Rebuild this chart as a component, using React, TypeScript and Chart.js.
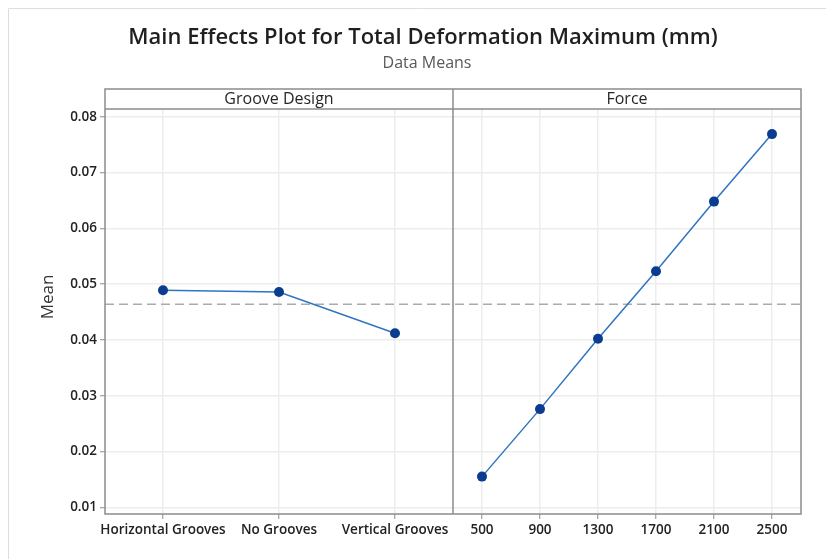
import { useEffect, useRef } from "react";
import { Chart, registerables } from "chart.js";

Chart.register(...registerables);

// Factor levels and their mean responses
const GROOVE_LEVELS = ["Horizontal Grooves", "No Grooves", "Vertical Grooves"];
const GROOVE_MEANS = [0.0489, 0.0486, 0.0412];
const FORCE_LEVELS = ["500", "900", "1300", "1700", "2100", "2500"];
const FORCE_MEANS = [0.0155, 0.0276, 0.0402, 0.0523, 0.0648, 0.0769];
const Y_TICKS = [0.01, 0.02, 0.03, 0.04, 0.05, 0.06, 0.07, 0.08];
const GRAND_MEAN = 0.0464;

const PANEL_TITLES = ["Groove Design", "Force"];
const TITLE = "Main Effects Plot for Total Deformation Maximum (mm)";
const SUBTITLE = "Data Means";
const Y_LABEL = "Mean";

const W = 826;
const H = 559;
const FONT = "'Open Sans', 'Noto Sans', sans-serif";
const FRAME = "#8c8c8c";
const GRID = "#ededed";
const LINE = "#2f74c2";
const DOT = "#0a3c8f";
const HEADER_TOP = 89;

const panelPlugin = {
  id: "panelFrame",
  beforeDraw(chart: any) {
    const { ctx } = chart;
    ctx.save();
    ctx.fillStyle = "#ffffff";
    ctx.fillRect(0, 0, W, H);
    // light outer border of the graph window
    ctx.strokeStyle = "#dedede";
    ctx.lineWidth = 1;
    ctx.beginPath();
    ctx.moveTo(8.5, H);
    ctx.lineTo(8.5, 8.5);
    ctx.lineTo(W, 8.5);
    ctx.stroke();
    ctx.restore();
  },
  beforeDatasetsDraw(chart: any) {
    const { ctx, chartArea } = chart;
    const y = chart.scales.y.getPixelForValue(GRAND_MEAN);
    ctx.save();
    ctx.strokeStyle = "#ababab";
    ctx.lineWidth = 1.5;
    ctx.setLineDash([9, 5]);
    ctx.beginPath();
    ctx.moveTo(chartArea.left, y);
    ctx.lineTo(chartArea.right, y);
    ctx.stroke();
    ctx.restore();
  },
  afterDraw(chart: any) {
    const { ctx, chartArea } = chart;
    const xg = chart.scales.xg;
    const xf = chart.scales.xf;
    const split = xg.right;
    ctx.save();
    // panel frame, header strip and divider
    ctx.strokeStyle = FRAME;
    ctx.lineWidth = 1.5;
    ctx.strokeRect(chartArea.left, HEADER_TOP, chartArea.right - chartArea.left, chartArea.bottom - HEADER_TOP);
    ctx.beginPath();
    ctx.moveTo(chartArea.left, chartArea.top);
    ctx.lineTo(chartArea.right, chartArea.top);
    ctx.moveTo(split, HEADER_TOP);
    ctx.lineTo(split, chartArea.bottom);
    ctx.stroke();

    // header labels
    ctx.fillStyle = "#262626";
    ctx.font = `16px ${FONT}`;
    ctx.textAlign = "center";
    ctx.textBaseline = "middle";
    const hy = (HEADER_TOP + chartArea.top) / 2 + 0.5;
    ctx.fillText(PANEL_TITLES[0], (xg.left + xg.right) / 2, hy);
    ctx.fillText(PANEL_TITLES[1], (xf.left + xf.right) / 2, hy);

    // title and subtitle
    ctx.fillStyle = "#1f1f1f";
    ctx.font = `600 22px ${FONT}`;
    ctx.fillText(TITLE, 423, 38);
    ctx.fillStyle = "#595959";
    ctx.font = `16px ${FONT}`;
    ctx.fillText(SUBTITLE, 427, 63);

    // y axis title
    ctx.fillStyle = "#333333";
    ctx.font = `17px ${FONT}`;
    ctx.translate(48, 297);
    ctx.rotate(-Math.PI / 2);
    ctx.fillText(Y_LABEL, 0, 0);
    ctx.restore();
  },
};

function xAxis(labels: string[]) {
  return {
    type: "category",
    labels,
    position: "bottom",
    stack: "panels",
    stackWeight: 1,
    offset: true,
    border: { display: false },
    grid: { color: GRID, lineWidth: 1.5, tickColor: FRAME, tickLength: 5, tickWidth: 1 },
    ticks: {
      color: "#222222",
      font: { family: FONT, size: 13.5, weight: "600" },
      padding: 3,
      maxRotation: 0,
      autoSkip: false,
    },
    afterFit(scale: any) {
      scale.height = 45;
      scale.paddingLeft = 0;
      scale.paddingRight = 0;
    },
  };
}

export default function App() {
  const ref = useRef<HTMLCanvasElement | null>(null);

  useEffect(() => {
    if (!ref.current) return;
    const chart = new Chart(ref.current, {
      type: "line",
      data: {
        datasets: [
          {
            label: PANEL_TITLES[0],
            data: GROOVE_MEANS,
            xAxisID: "xg",
            yAxisID: "y",
          },
          {
            label: PANEL_TITLES[1],
            data: FORCE_MEANS,
            xAxisID: "xf",
            yAxisID: "y",
          },
        ],
      },
      options: {
        responsive: false,
        animation: false,
        devicePixelRatio: 1,
        layout: { padding: { left: 0, top: 109, right: 25, bottom: 0 } },
        elements: {
          line: { borderColor: LINE, borderWidth: 1.5, tension: 0 },
          point: { radius: 5, backgroundColor: DOT, borderColor: DOT, borderWidth: 0 },
        },
        plugins: {
          legend: { display: false },
          title: { display: false },
          tooltip: { enabled: false },
        },
        scales: {
          xg: xAxis(GROOVE_LEVELS),
          xf: xAxis(FORCE_LEVELS),
          y: {
            type: "linear",
            position: "left",
            min: 0.0088,
            max: 0.0814,
            border: { display: false },
            grid: { color: GRID, lineWidth: 1.5, tickColor: FRAME, tickLength: 5, tickWidth: 1 },
            afterBuildTicks(scale: any) {
              scale.ticks = Y_TICKS.map((v) => ({ value: v }));
            },
            ticks: {
              color: "#222222",
              font: { family: FONT, size: 13.5, weight: "600" },
              padding: 3,
              callback: (v: any) => Number(v).toFixed(2),
            },
            afterFit(scale: any) {
              scale.width = 105;
            },
          },
        },
      } as any,
      plugins: [panelPlugin],
    });
    return () => chart.destroy();
  }, []);

  return (
    <div style={{ position: "absolute", left: 0, top: 0, width: W, height: H }}>
      <canvas ref={ref} width={W} height={H} style={{ display: "block" }} />
    </div>
  );
}
